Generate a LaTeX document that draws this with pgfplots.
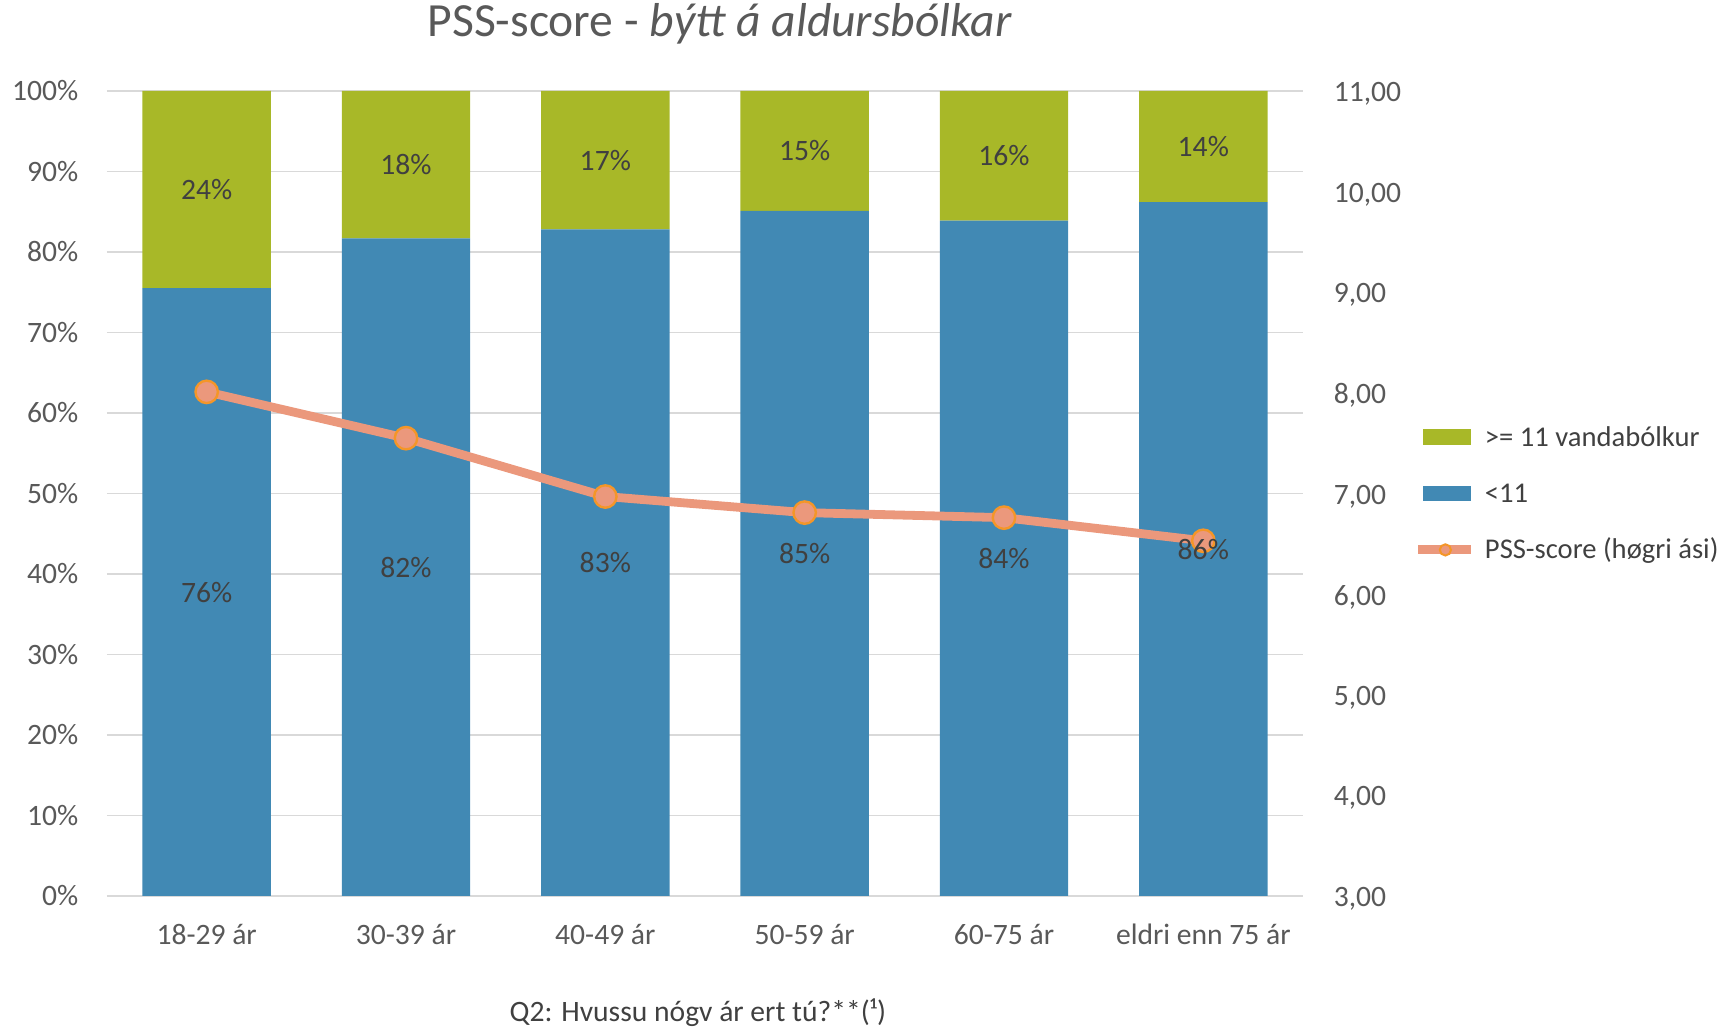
\documentclass[border=0pt]{standalone}
\usepackage{pgfplots}
\pgfplotsset{compat=1.18}
\usepackage{pgfplotstable}
\usepackage{fontspec}
\setmainfont{Carlito}

\definecolor{cgreen}{RGB}{168,184,40}
\definecolor{cblue}{RGB}{65,137,180}
\definecolor{csalmon}{RGB}{235,152,124}
\definecolor{corange}{RGB}{244,150,40}
\definecolor{gridgray}{RGB}{217,217,217}
\definecolor{tickgray}{RGB}{89,89,89}
\definecolor{labgray}{RGB}{64,64,64}

% age group, share <11, share >=11, printed labels, PSS score
\pgfplotstableread{
x blue green blab glab pss
0 75.5 24.5 76 24 8.01
1 81.7 18.3 82 18 7.55
2 82.8 17.2 83 17 6.97
3 85.1 14.9 85 15 6.81
4 83.9 16.1 84 16 6.76
5 86.2 13.8 86 14 6.53
}\agedata

\newcommand{\lbl}{\fontsize{7.4}{9}\selectfont}

\pgfplotsset{
  base/.style={
    scale only axis, width=299pt, height=201.25pt,
    at={(26.75pt,33pt)}, anchor=south west,
    xmin=-0.5, xmax=5.5,
    /pgf/number format/assume math mode=true,
    tick label style={font=\lbl, text=tickgray},
    major tick length=0pt,
    axis line style={draw=none},
  }}

\begin{document}
\begin{tikzpicture}
\useasboundingbox (0,0) rectangle (431pt,257pt);

% bars
\begin{axis}[base,
  ymin=0, ymax=100, ybar stacked, bar width=0.644,
  ytick={0,10,...,100},
  yticklabel={\pgfmathprintnumber{\tick}\%},
  yticklabel style={anchor=east, inner sep=0pt, xshift=-7pt},
  ymajorgrids, grid style={draw=gridgray, line width=0.45pt},
  xtick={0,...,5},
  xticklabels={18-29 ár, 30-39 ár, 40-49 ár, 50-59 ár, 60-75 ár, eldri enn 75 ár},
  xticklabel style={anchor=base, inner sep=0pt, yshift=-12.25pt},
  xlabel={Q2: Hvussu nógv ár ert tú?**(¹)},
  xlabel style={at={(axis description cs:0.494,0)}, anchor=base, inner sep=0pt,
    yshift=-31.25pt, font=\lbl, text=labgray},
  title={PSS-score - \textit{býtt á aldursbólkar}},
  title style={at={(axis description cs:0.5125,1)}, anchor=center, yshift=10.75pt,
    font=\fontsize{11.9}{14}\selectfont, text=tickgray},
]
\addplot[fill=cblue, draw=none] table[x=x, y=blue]{\agedata};
\addplot[fill=cgreen, draw=none] table[x=x, y=green]{\agedata};
\end{axis}

% PSS score, right axis
\begin{axis}[base,
  ymin=3, ymax=11, axis y line*=right, hide x axis,
  ytick={3,...,11},
  yticklabel style={anchor=west, inner sep=0pt, xshift=7.5pt, yshift=-0.7pt,
    /pgf/number format/.cd, fixed, fixed zerofill, precision=2, use comma},
]
\addplot[color=csalmon, line width=2.2pt, mark=*, mark size=2.8pt,
  mark options={fill=csalmon, draw=corange, line width=0.6pt}]
  table[x=x, y=pss]{\agedata};
\end{axis}

% data labels and legend
\begin{axis}[base, hide axis,
  ymin=0, ymax=100, ybar stacked, bar width=0.644,
  point meta=explicit symbolic,
  nodes near coords={\pgfplotspointmeta\%},
  every node near coord/.append style={anchor=center, font=\lbl, text=labgray},
  legend style={at={(1,0.5)}, anchor=west, xshift=27.5pt, draw=none, fill=none,
    inner sep=0pt, font=\fontsize{7.15}{9}\selectfont, text=labgray, row sep=4.2pt,
    nodes={text height=6pt, text depth=1.5pt, inner sep=1.2pt}},
  legend cell align=left,
  /tikz/every odd column/.append style={column sep=1.3pt},
]
\addplot[draw=none, fill=none, forget plot] table[x=x, y=blue, meta=blab]{\agedata};
\addplot[draw=none, fill=none, forget plot] table[x=x, y=green, meta=glab]{\agedata};
\addlegendimage{legend image code/.code={\fill[cgreen] (0pt,-1.7pt) rectangle (11.8pt,1.7pt);}}
\addlegendentry{>= 11 vandabólkur}
\addlegendimage{legend image code/.code={\fill[cblue] (0pt,-1.7pt) rectangle (11.8pt,1.7pt);}}
\addlegendentry{<11}
\addlegendimage{legend image code/.code={
  \draw[csalmon, line width=2.2pt] (-1.3pt,0pt) -- (11.8pt,0pt);
  \filldraw[fill=csalmon, draw=corange, line width=0.5pt] (5.5pt,0pt) circle (1.4pt);}}
\addlegendentry{PSS-score (høgri ási)}
\end{axis}
\end{tikzpicture}
\end{document}
